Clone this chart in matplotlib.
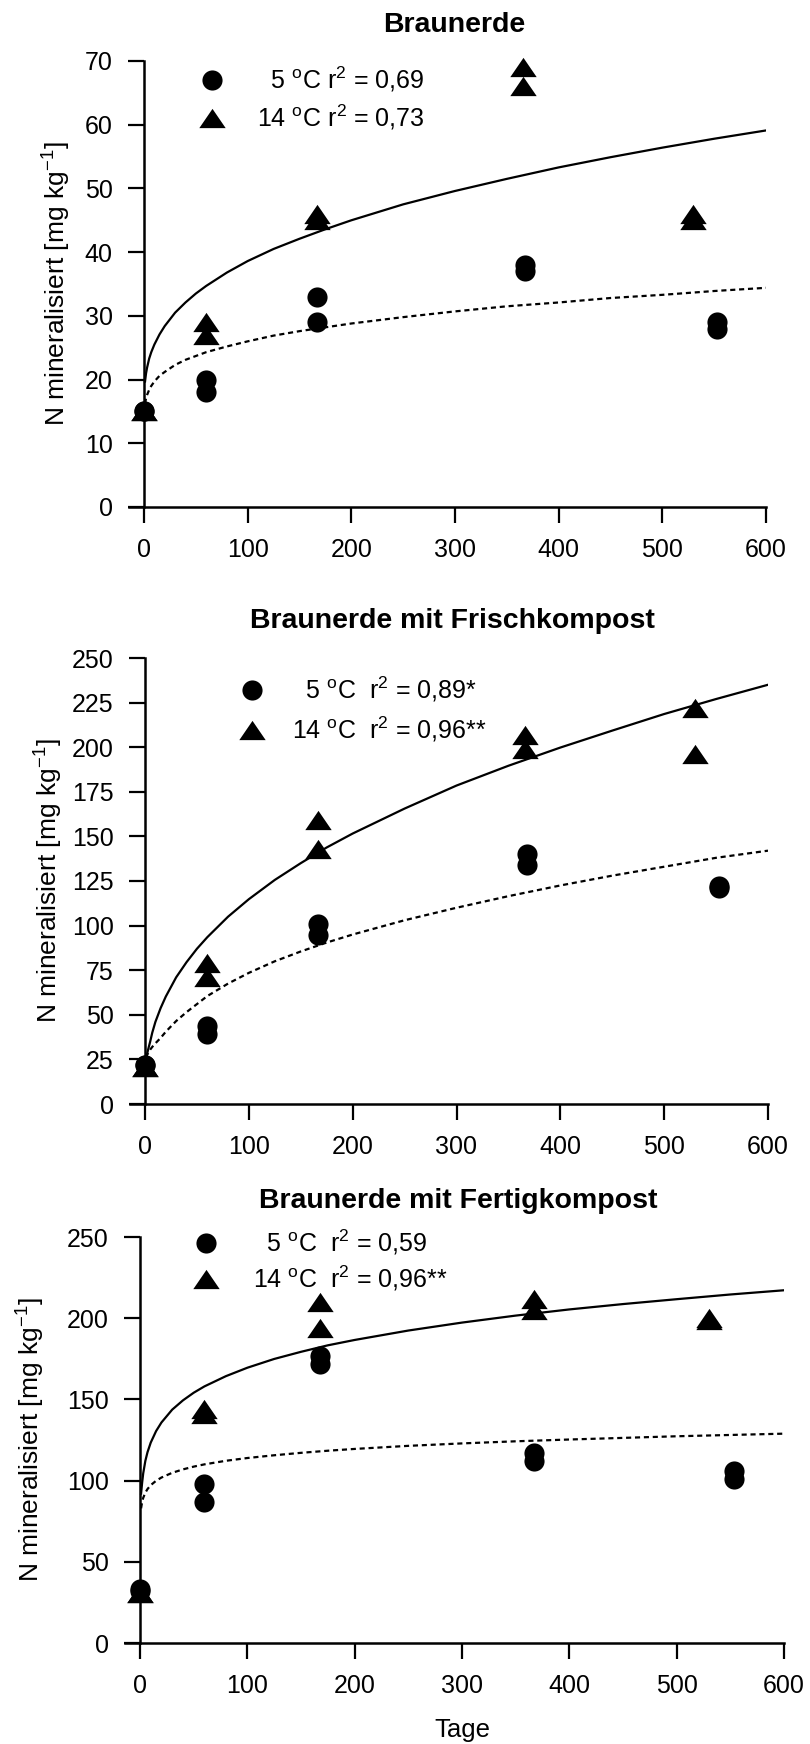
import matplotlib
matplotlib.use("Agg")
import matplotlib.pyplot as plt

plt.rcParams['font.family'] = ['Liberation Sans', 'DejaVu Sans']
plt.rcParams['mathtext.fontset'] = 'custom'
plt.rcParams['mathtext.rm'] = 'Liberation Sans'
plt.rcParams['mathtext.it'] = 'Liberation Sans:italic'
plt.rcParams['mathtext.bf'] = 'Liberation Sans:bold'

fit_days = [1, 2, 3, 5, 7, 10, 15, 20, 30, 40, 50, 60, 80, 100, 125, 150, 175,
            200, 250, 300, 350, 400, 450, 500, 550, 600]

# --- Braunerde ---
be_days_5 = [0, 0, 60, 60, 167, 167, 368, 368, 553, 553]
be_n_5 = [15, 15, 20, 18, 33, 29, 38, 37, 29, 28]
be_days_14 = [0, 0, 60, 60, 167, 167, 366, 366, 530, 530]
be_n_14 = [15, 15, 29, 27, 46, 45, 69, 66, 46, 45]
be_fit_14 = [19.7, 21.0, 21.9, 23.3, 24.3, 25.5, 27.1, 28.4, 30.5, 32.1, 33.5, 34.7,
             36.8, 38.6, 40.5, 42.1, 43.6, 45.0, 47.5, 49.6, 51.5, 53.3, 54.9, 56.4,
             57.8, 59.1]
be_fit_5 = [16.2, 17.1, 17.6, 18.4, 19.0, 19.7, 20.6, 21.2, 22.3, 23.1, 23.7, 24.3,
            25.2, 26.0, 26.9, 27.6, 28.2, 28.8, 29.8, 30.7, 31.5, 32.1, 32.8, 33.3,
            33.9, 34.4]

# --- Braunerde mit Frischkompost ---
fk_days_5 = [0, 0, 60, 60, 167, 167, 368, 368, 553, 553]
fk_n_5 = [22, 22, 44, 39, 101, 95, 140, 134, 122, 121]
fk_days_14 = [0, 0, 60, 60, 167, 167, 366, 366, 530, 530]
fk_n_14 = [21, 21, 79, 71, 159, 143, 207, 199, 222, 196]
fk_fit_14 = [26, 28, 30.5, 35, 40, 46, 53.7, 60.2, 71, 79.5, 87, 93.5, 105, 114.8,
             125.6, 135, 143.8, 151.6, 165.6, 178.5, 189.6, 199.8, 209.3, 218.6,
             227, 235]
fk_fit_5 = [26, 27.5, 28.5, 30.5, 32, 34, 37, 40.5, 46.5, 51.5, 56, 60.5, 67.5,
            73.5, 80, 85.5, 90.5, 95, 103, 110, 116.5, 122.5, 128, 133, 138, 142]

# --- Braunerde mit Fertigkompost ---
rk_days_5 = [0, 0, 60, 60, 168, 168, 367, 367, 553, 553]
rk_n_5 = [33, 32, 98, 87, 177, 172, 117, 112, 106, 101]
rk_days_14 = [0, 0, 60, 60, 168, 168, 367, 367, 530, 530]
rk_n_14 = [31, 31, 144, 141, 210, 194, 212, 205, 200, 199]
rk_fit_14 = [92, 98.8, 104.5, 112.2, 117.5, 123.4, 130.5, 135.8, 143.7, 149.4, 154.1,
             158, 164.3, 169.5, 174.9, 179.3, 183.3, 186.6, 192.4, 197.3, 201.6,
             205.4, 208.7, 211.7, 214.6, 217.2]
rk_fit_5 = [82.9, 87.0, 89.4, 92.6, 94.8, 97.2, 99.9, 101.9, 104.8, 106.9, 108.6,
            110, 112.2, 113.9, 115.6, 117.1, 118.4, 119.5, 121.4, 122.9, 124.2,
            125.3, 126.3, 127.3, 128.1, 128.9]

W, H = 810, 1744
fig = plt.figure(figsize=(W / 100, H / 100), dpi=100)

# flat triangle like in the original
tri = [(-1, -0.73), (1, -0.73), (0, 0.73), (-1, -0.73)]


def panel(yax, right, top, bottom, ymax, yticks, d5, n5, d14, n14,
          f14, f5, labels, leg_x, leg_y, textpad, spacing, ext=15):
    left = yax - ext
    ppu = (right - yax) / 600
    ax = fig.add_axes([left / W, 1 - bottom / H, (right - left) / W, (bottom - top) / H])
    ax.set_xlim(-ext / ppu, 600)
    ax.set_ylim(0, ymax)
    ax.spines['left'].set_position(('data', 0))
    ax.spines['top'].set_visible(False)
    ax.spines['right'].set_visible(False)
    for s in ('left', 'bottom'):
        ax.spines[s].set_linewidth(1.8)
    ax.set_xticks([0, 100, 200, 300, 400, 500, 600])
    ax.set_yticks(yticks)
    ax.tick_params(direction='out', length=11.5, width=1.6, pad=11, labelsize=18)

    ax.plot(fit_days, f14, color='black', lw=1.6)
    ax.plot(fit_days, f5, color='black', lw=1.6, ls=(0, (2.3, 1.7)))
    h14, = ax.plot(d14, n14, ls='none', marker=tri, ms=19, color='black',
                   mew=0, clip_on=False)
    h5, = ax.plot(d5, n5, ls='none', marker='o', ms=14.5, color='black',
                  mew=0, clip_on=False)

    ax.legend([h5, h14], labels, loc='center left',
              bbox_to_anchor=((leg_x - 12.5 - left) / (right - left),
                              (bottom - leg_y) / (bottom - top)),
              frameon=False, borderpad=0, borderaxespad=0, handlelength=1.0,
              handletextpad=textpad, labelspacing=spacing, fontsize=18,
              numpoints=1)
    return ax


panel(144, 766, 61, 507, 70, range(0, 71, 10),
      be_days_5, be_n_5, be_days_14, be_n_14, be_fit_14, be_fit_5,
      ['  5 $^{\\mathrm{o}}$C r$^{2}$ = 0,69', '14 $^{\\mathrm{o}}$C r$^{2}$ = 0,73'],
      212, 98.5, 1.3, 0.36)
panel(145, 768, 658, 1104, 250, range(0, 251, 25),
      fk_days_5, fk_n_5, fk_days_14, fk_n_14, fk_fit_14, fk_fit_5,
      ['  5 $^{\\mathrm{o}}$C  r$^{2}$ = 0,89*', '14 $^{\\mathrm{o}}$C  r$^{2}$ = 0,96**'],
      252, 709.5, 1.1, 0.44)
panel(140, 784, 1237, 1643, 250, range(0, 251, 50),
      rk_days_5, rk_n_5, rk_days_14, rk_n_14, rk_fit_14, rk_fit_5,
      ['  5 $^{\\mathrm{o}}$C  r$^{2}$ = 0,59', '14 $^{\\mathrm{o}}$C  r$^{2}$ = 0,96**'],
      206, 1260.5, 1.38, 0.28)

titles = ['Braunerde', 'Braunerde mit Frischkompost', 'Braunerde mit Fertigkompost']
for t, x, y in zip(titles, [454, 452, 458], [32, 628, 1208]):
    fig.text(x / W, 1 - y / H, t, ha='center', va='baseline', fontsize=20.5,
             fontweight='bold')

for x, y in zip([57, 49, 31], [284, 881, 1440]):
    fig.text(x / W, 1 - y / H, 'N mineralisiert [mg kg$^{-1}$]', rotation=90,
             ha='center', va='center', fontsize=19)

fig.text(462 / W, 1 - 1737 / H, 'Tage', ha='center', va='baseline', fontsize=18.5)

fig.savefig('out.png', dpi=100)
